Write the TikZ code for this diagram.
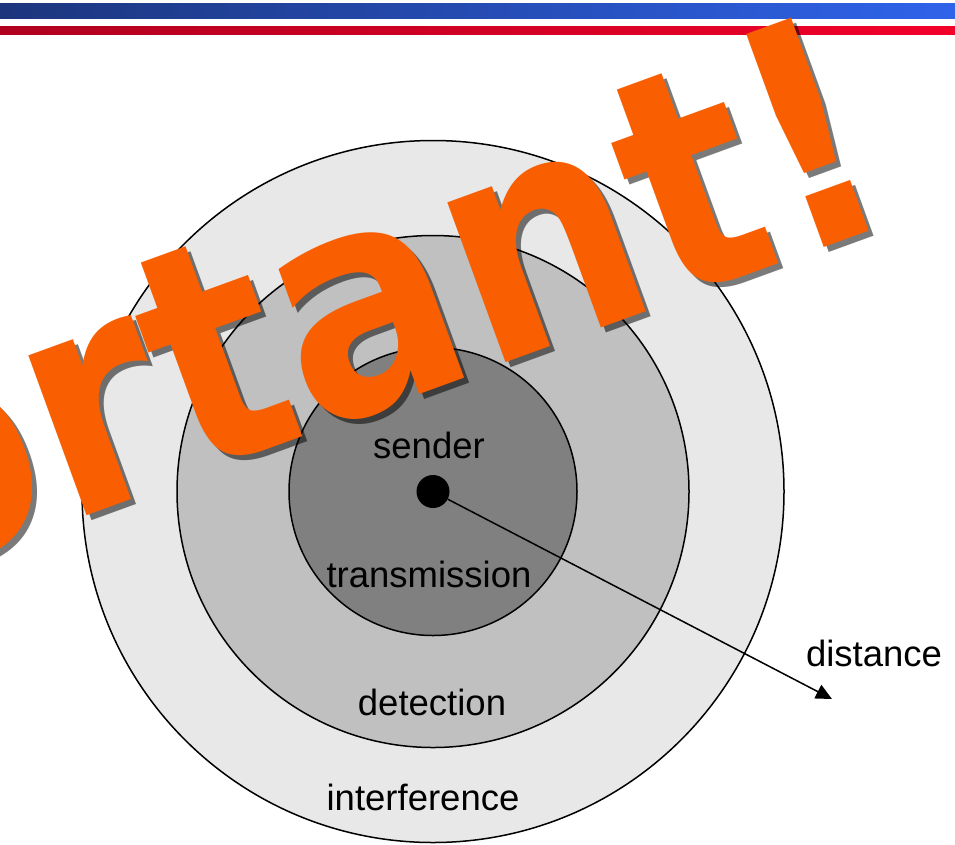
\documentclass[tikz,border=0pt]{standalone}
\usepackage{fontspec}
\setmainfont{Liberation Sans}
\newfontfamily\impfont{DejaVu Sans Condensed}[BoldFont={DejaVu Sans Condensed Bold}]
\usetikzlibrary{arrows.meta}
\definecolor{imporange}{HTML}{F95F00}
\definecolor{ringA}{HTML}{E8E8E8}
\definecolor{ringB}{HTML}{C0C0C0}
\definecolor{ringC}{HTML}{808080}
\definecolor{blueL}{HTML}{1C357D}
\definecolor{blueR}{HTML}{2F63EA}
\definecolor{redL}{HTML}{B00020}
\definecolor{redR}{HTML}{F2002A}
\tikzset{
  ring/.style={draw=black, line width=1.5pt},
  lbl/.style={font=\fontsize{36.5}{40}\selectfont, anchor=base, inner sep=0pt},
  imptext/.style={rotate=20, xscale=0.97, anchor=base east, inner sep=0pt,
    font=\impfont\bfseries\fontsize{311}{311}\selectfont},
  arrowline/.style={line width=1.5pt, -{Triangle[length=16pt,width=15pt]}}
}
\begin{document}
\begin{tikzpicture}[x=1pt,y=-1pt]
\useasboundingbox (0,0) rectangle (955,844);
\clip (0,0) rectangle (955,844);
% header bars
\shade[left color=blueL, right color=blueR] (0,3.3) rectangle (955,18.7);
\shade[left color=redL, right color=redR] (0,26) rectangle (955,34.7);
% rings
\coordinate (c) at (433,491.5);
\fill[ringA] (c) circle[radius=351pt];
\draw[ring] (c) circle[radius=351pt];
\fill[ringB] (c) circle[radius=256pt];
\draw[ring] (c) circle[radius=256pt];
\fill[ringC] (c) circle[radius=144pt];
\draw[ring] (c) circle[radius=144pt];
% labels
\node[lbl] (snd) at (429,458) {sender};
\node[lbl] (trn) at (429,587) {transmission};
\node[lbl] (det) at (432,715) {detection};
\node[lbl] (itf) at (423,810) {interference};
\node[lbl] (dst) at (874,666) {distance};
% sender dot and distance arrow
\node[circle, fill=black, minimum size=33pt, inner sep=0pt] (dot) at (433,491.5) {};
\coordinate (tip) at (832,699);
\draw[arrowline] (dot) -- (tip);
% big text with shadow
\node[imptext, text=black, text opacity=0.52] (impsh) at (910,223) {Important!};
\node[imptext, text=imporange] (imp) at (905,218) {Important!};
\end{tikzpicture}
\end{document}
